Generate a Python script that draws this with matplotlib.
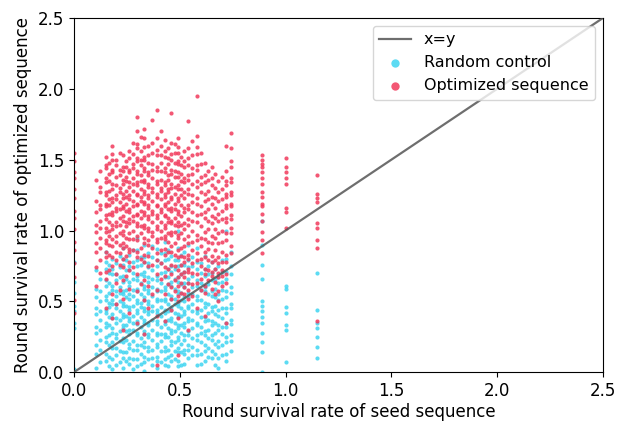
import matplotlib
matplotlib.use('Agg')
import matplotlib.pyplot as plt
import numpy as np

# --- Data (column by column) ---
# seed-sequence survival rates (x), one column of points per value
seed_x = [0.0, 0.105, 0.15, 0.18, 0.2, 0.23, 0.26, 0.3, 0.33, 0.35, 0.39,
          0.43, 0.46, 0.49, 0.52, 0.54, 0.58, 0.62, 0.65, 0.68, 0.72, 0.74,
          0.89, 1.0, 1.15,
          0.125, 0.165, 0.215, 0.245, 0.28, 0.315, 0.37, 0.41, 0.445, 0.475,
          0.505, 0.56, 0.6, 0.635, 0.665, 0.7]

optimized_y = [
    [1.55, 1.49, 1.41, 1.37, 1.29, 1.23, 1.14, 1.09, 1.01, 0.92, 0.86, 0.77, 0.67, 0.51, 0.42],
    [1.36, 1.21, 1.13, 1.04, 0.99, 0.91, 0.85, 0.74, 0.61],
    [1.52, 1.46, 1.44, 1.37, 1.34, 1.27, 1.25, 1.19, 1.17, 1.11, 1.08, 1.02, 0.99, 0.93, 0.91, 0.85, 0.81, 0.71, 0.66, 0.45],
    [1.60, 1.54, 1.50, 1.43, 1.41, 1.33, 1.29, 1.23, 1.20, 1.13, 1.11, 1.04, 1.01, 0.94, 0.89, 0.81, 0.75, 0.55, 0.38],
    [1.50, 1.46, 1.38, 1.32, 1.25, 1.22, 1.16, 1.14, 1.06, 1.03, 0.96, 0.92, 0.85, 0.79, 0.69, 0.63, 0.48],
    [1.53, 1.45, 1.42, 1.36, 1.33, 1.26, 1.23, 1.17, 1.16, 1.10, 1.07, 1.00, 0.97, 0.91, 0.88, 0.80, 0.74, 0.65, 0.52, 0.30],
    [1.56, 1.51, 1.43, 1.41, 1.34, 1.31, 1.25, 1.22, 1.15, 1.13, 1.08, 1.05, 0.98, 0.94, 0.87, 0.85, 0.78, 0.72, 0.59, 0.42],
    [1.80, 1.70, 1.61, 1.58, 1.51, 1.49, 1.42, 1.40, 1.34, 1.32, 1.26, 1.25, 1.19, 1.18, 1.12, 1.11, 1.05, 1.03, 0.96, 0.93, 0.85, 0.81, 0.69, 0.57, 0.35],
    [1.72, 1.65, 1.59, 1.52, 1.50, 1.44, 1.42, 1.36, 1.34, 1.28, 1.26, 1.20, 1.19, 1.13, 1.11, 1.04, 1.02, 0.95, 0.91, 0.83, 0.78, 0.65, 0.51, 0.27],
    [1.60, 1.53, 1.48, 1.41, 1.39, 1.33, 1.31, 1.25, 1.23, 1.18, 1.16, 1.10, 1.08, 1.02, 1.00, 0.93, 0.90, 0.82, 0.75, 0.61, 0.45],
    [1.85, 1.65, 1.57, 1.53, 1.45, 1.42, 1.35, 1.33, 1.26, 1.24, 1.18, 1.17, 1.11, 1.09, 1.03, 1.01, 0.94, 0.92, 0.84, 0.79, 0.69, 0.58, 0.40, 0.05],
    [1.64, 1.56, 1.52, 1.44, 1.41, 1.34, 1.32, 1.26, 1.24, 1.19, 1.17, 1.11, 1.10, 1.04, 1.02, 0.96, 0.94, 0.87, 0.83, 0.74, 0.68, 0.55, 0.36],
    [1.83, 1.62, 1.54, 1.50, 1.43, 1.40, 1.33, 1.30, 1.24, 1.22, 1.16, 1.14, 1.07, 1.05, 0.99, 0.97, 0.89, 0.85, 0.76, 0.69, 0.60, 0.52, 0.44],
    [1.65, 1.59, 1.55, 1.49, 1.47, 1.41, 1.38, 1.32, 1.29, 1.23, 1.21, 1.14, 1.12, 1.06, 1.03, 0.97, 0.95, 0.86, 0.81, 0.72, 0.67, 0.61, 0.54, 0.50, 0.38, 0.12],
    [1.56, 1.49, 1.45, 1.37, 1.34, 1.27, 1.23, 1.16, 1.13, 1.05, 1.01, 0.94, 0.89, 0.81, 0.78, 0.71, 0.67, 0.60, 0.55],
    [1.77, 1.58, 1.51, 1.46, 1.39, 1.36, 1.29, 1.26, 1.18, 1.15, 1.08, 1.04, 0.96, 0.91, 0.83, 0.80, 0.73, 0.71, 0.63, 0.58, 0.52, 0.30],
    [1.95, 1.67, 1.59, 1.54, 1.46, 1.43, 1.35, 1.31, 1.23, 1.19, 1.11, 1.06, 0.97, 0.93, 0.84, 0.79, 0.69, 0.63, 0.45],
    [1.48, 1.39, 1.34, 1.26, 1.21, 1.13, 1.09, 0.99, 0.94, 0.85, 0.81, 0.73, 0.69, 0.61, 0.56, 0.40],
    [1.45, 1.37, 1.32, 1.24, 1.19, 1.10, 1.05, 0.96, 0.91, 0.82, 0.78, 0.71, 0.68, 0.59],
    [1.35, 1.27, 1.21, 1.12, 1.07, 0.98, 0.91, 0.81, 0.77, 0.70, 0.67, 0.57, 0.50],
    [1.60, 1.42, 1.35, 1.32, 1.26, 1.24, 1.18, 1.16, 1.09, 1.06, 0.98, 0.93, 0.83, 0.78, 0.69, 0.63, 0.35],
    [1.69, 1.58, 1.49, 1.45, 1.37, 1.34, 1.27, 1.25, 1.19, 1.17, 1.11, 1.08, 1.02, 0.98, 0.89, 0.84],
    [1.53, 1.50, 1.47, 1.45, 1.41, 1.37, 1.33, 1.27, 1.24, 1.19, 1.17, 1.12, 1.07, 0.99, 0.93, 0.84],
    [1.51, 1.45, 1.41, 1.37, 1.33, 1.16, 1.13, 1.02],
    [1.39, 1.26, 1.23, 1.20, 1.05, 1.02, 0.93, 0.88, 0.36],
    # in-between columns
    [1.42, 1.31, 1.27, 1.18, 1.15, 1.07, 1.02, 0.95, 0.88, 0.79, 0.70],
    [1.48, 1.40, 1.35, 1.28, 1.22, 1.18, 1.12, 1.06, 1.00, 0.96, 0.90, 0.83, 0.72],
    [1.55, 1.43, 1.39, 1.30, 1.27, 1.20, 1.15, 1.09, 1.04, 0.98, 0.90, 0.84, 0.76, 0.58],
    [1.49, 1.45, 1.38, 1.35, 1.28, 1.24, 1.19, 1.14, 1.06, 1.03, 0.95, 0.89, 0.82, 0.68],
    [1.62, 1.54, 1.47, 1.44, 1.37, 1.33, 1.28, 1.21, 1.17, 1.10, 1.07, 1.00, 0.94, 0.86, 0.74],
    [1.66, 1.56, 1.50, 1.46, 1.39, 1.35, 1.29, 1.24, 1.21, 1.14, 1.09, 1.03, 0.98, 0.88, 0.80, 0.62],
    [1.78, 1.62, 1.55, 1.47, 1.43, 1.37, 1.30, 1.27, 1.21, 1.14, 1.12, 1.06, 0.99, 0.96, 0.88, 0.76, 0.55],
    [1.70, 1.60, 1.53, 1.48, 1.42, 1.36, 1.30, 1.28, 1.22, 1.15, 1.13, 1.06, 1.00, 0.95, 0.86, 0.77, 0.66],
    [1.58, 1.51, 1.47, 1.39, 1.36, 1.29, 1.27, 1.20, 1.15, 1.09, 1.06, 0.98, 0.92, 0.85, 0.73, 0.62],
    [1.61, 1.55, 1.48, 1.42, 1.38, 1.31, 1.26, 1.19, 1.15, 1.09, 1.04, 0.99, 0.91, 0.83, 0.75, 0.65, 0.57],
    [1.52, 1.46, 1.40, 1.35, 1.29, 1.25, 1.18, 1.10, 1.04, 0.98, 0.88, 0.82, 0.76, 0.69, 0.63, 0.56],
    [1.63, 1.53, 1.44, 1.40, 1.33, 1.25, 1.20, 1.13, 1.07, 1.00, 0.92, 0.86, 0.77, 0.70, 0.62, 0.54],
    [1.55, 1.47, 1.38, 1.33, 1.27, 1.17, 1.12, 1.03, 0.95, 0.89, 0.80, 0.75, 0.66, 0.58],
    [1.42, 1.36, 1.28, 1.22, 1.15, 1.07, 1.01, 0.92, 0.87, 0.79, 0.72, 0.65],
    [1.40, 1.30, 1.23, 1.16, 1.09, 1.01, 0.95, 0.86, 0.79, 0.73, 0.64, 0.55],
    [1.38, 1.29, 1.22, 1.14, 1.08, 1.00, 0.92, 0.85, 0.78, 0.72, 0.68, 0.61],
]

random_y = [
    [0.78, 0.64, 0.56, 0.47, 0.43, 0.35, 0.31, 0.02],
    [0.72, 0.59, 0.53, 0.45, 0.41, 0.32, 0.28, 0.19, 0.13, 0.03],
    [0.85, 0.78, 0.73, 0.65, 0.61, 0.54, 0.51, 0.44, 0.42, 0.35, 0.32, 0.25, 0.21, 0.13, 0.08],
    [0.80, 0.73, 0.69, 0.61, 0.58, 0.51, 0.48, 0.41, 0.38, 0.31, 0.28, 0.21, 0.17, 0.09, 0.02],
    [0.77, 0.69, 0.65, 0.57, 0.54, 0.48, 0.45, 0.38, 0.35, 0.27, 0.24, 0.17, 0.12, 0.05],
    [0.88, 0.80, 0.76, 0.68, 0.64, 0.57, 0.55, 0.49, 0.47, 0.41, 0.39, 0.33, 0.31, 0.24, 0.21, 0.14, 0.10, 0.03],
    [0.83, 0.75, 0.72, 0.64, 0.61, 0.55, 0.52, 0.46, 0.44, 0.38, 0.36, 0.30, 0.27, 0.20, 0.17, 0.10, 0.06],
    [0.95, 0.86, 0.79, 0.75, 0.68, 0.65, 0.59, 0.57, 0.51, 0.49, 0.44, 0.42, 0.36, 0.34, 0.28, 0.26, 0.19, 0.16, 0.09, 0.04],
    [0.90, 0.81, 0.78, 0.71, 0.68, 0.61, 0.59, 0.53, 0.51, 0.45, 0.43, 0.37, 0.35, 0.29, 0.27, 0.21, 0.18, 0.11, 0.07, 0.01],
    [0.84, 0.77, 0.74, 0.67, 0.64, 0.58, 0.56, 0.50, 0.48, 0.43, 0.41, 0.35, 0.33, 0.27, 0.25, 0.18, 0.15, 0.09],
    [0.87, 0.79, 0.75, 0.68, 0.65, 0.59, 0.57, 0.52, 0.50, 0.44, 0.42, 0.36, 0.34, 0.28, 0.26, 0.20, 0.18, 0.11, 0.08, 0.03],
    [0.92, 0.84, 0.79, 0.71, 0.67, 0.60, 0.58, 0.52, 0.50, 0.44, 0.42, 0.36, 0.34, 0.27, 0.25, 0.18, 0.15, 0.09, 0.05],
    [0.82, 0.75, 0.71, 0.64, 0.61, 0.54, 0.52, 0.46, 0.44, 0.38, 0.36, 0.30, 0.28, 0.22, 0.19, 0.12, 0.08],
    [1.00, 0.88, 0.79, 0.75, 0.67, 0.64, 0.57, 0.55, 0.49, 0.47, 0.41, 0.39, 0.33, 0.31, 0.25, 0.23, 0.17, 0.14, 0.08, 0.04],
    [0.85, 0.76, 0.71, 0.63, 0.60, 0.53, 0.50, 0.43, 0.41, 0.35, 0.32, 0.26, 0.23, 0.16, 0.13, 0.06],
    [0.90, 0.79, 0.74, 0.66, 0.63, 0.56, 0.53, 0.47, 0.45, 0.38, 0.36, 0.29, 0.26, 0.19, 0.16, 0.10],
    [0.88, 0.78, 0.73, 0.65, 0.61, 0.54, 0.51, 0.44, 0.42, 0.35, 0.33, 0.26, 0.23, 0.16, 0.12, 0.05],
    [0.82, 0.73, 0.68, 0.60, 0.57, 0.49, 0.46, 0.39, 0.36, 0.29, 0.26, 0.19, 0.15, 0.08],
    [0.78, 0.70, 0.65, 0.57, 0.54, 0.46, 0.43, 0.36, 0.33, 0.26, 0.23, 0.15, 0.10],
    [0.75, 0.67, 0.63, 0.55, 0.51, 0.44, 0.40, 0.33, 0.30, 0.22, 0.18, 0.10, 0.03],
    [1.00, 0.80, 0.71, 0.66, 0.57, 0.53, 0.45, 0.42, 0.35, 0.32, 0.25, 0.21, 0.13, 0.08],
    [0.85, 0.75, 0.69, 0.60, 0.56, 0.48, 0.45, 0.37, 0.34, 0.26, 0.22, 0.15],
    [1.07, 0.90, 0.76, 0.66, 0.50, 0.47, 0.43, 0.39, 0.35, 0.28, 0.21, 0.14, 0.0],
    [0.61, 0.59, 0.46, 0.42, 0.33, 0.30, 0.07],
    [0.70, 0.44, 0.35, 0.31, 0.25, 0.18, 0.10],
    # in-between columns
    [0.66, 0.57, 0.50, 0.43, 0.37, 0.30, 0.23, 0.16, 0.07],
    [0.76, 0.70, 0.63, 0.56, 0.49, 0.46, 0.39, 0.33, 0.26, 0.19, 0.11, 0.04],
    [0.82, 0.74, 0.67, 0.60, 0.56, 0.50, 0.43, 0.37, 0.29, 0.22, 0.15, 0.07],
    [0.79, 0.72, 0.66, 0.58, 0.53, 0.47, 0.40, 0.33, 0.29, 0.23, 0.14, 0.08],
    [0.86, 0.78, 0.70, 0.66, 0.58, 0.54, 0.47, 0.40, 0.35, 0.30, 0.22, 0.16, 0.09, 0.02],
    [0.81, 0.76, 0.69, 0.63, 0.55, 0.49, 0.46, 0.39, 0.32, 0.24, 0.19, 0.13, 0.06],
    [0.89, 0.81, 0.72, 0.66, 0.60, 0.54, 0.47, 0.43, 0.37, 0.30, 0.23, 0.16, 0.10, 0.05],
    [0.84, 0.77, 0.70, 0.63, 0.57, 0.51, 0.46, 0.40, 0.32, 0.27, 0.22, 0.15, 0.07],
    [0.86, 0.80, 0.73, 0.67, 0.62, 0.55, 0.48, 0.43, 0.37, 0.31, 0.25, 0.16, 0.11, 0.04],
    [0.79, 0.73, 0.66, 0.59, 0.52, 0.48, 0.42, 0.35, 0.29, 0.21, 0.15, 0.09],
    [0.83, 0.76, 0.69, 0.62, 0.56, 0.51, 0.45, 0.40, 0.33, 0.28, 0.20, 0.14, 0.05],
    [0.81, 0.75, 0.68, 0.60, 0.55, 0.48, 0.43, 0.37, 0.31, 0.24, 0.18, 0.12],
    [0.77, 0.70, 0.63, 0.58, 0.51, 0.44, 0.39, 0.32, 0.28, 0.21, 0.13, 0.06],
    [0.75, 0.69, 0.62, 0.55, 0.48, 0.42, 0.37, 0.30, 0.24, 0.17, 0.11],
    [0.73, 0.66, 0.59, 0.53, 0.47, 0.41, 0.35, 0.28, 0.20, 0.13, 0.05],
    [0.79, 0.71, 0.64, 0.58, 0.52, 0.45, 0.38, 0.32, 0.27, 0.19, 0.12],
]

BLUE = '#3fd5f1'
RED = '#f23a5c'

def flatten(cols):
    xs, ys = [], []
    for x, col in zip(seed_x, cols):
        xs.extend([x] * len(col))
        ys.extend(col)
    return np.array(xs), np.array(ys)

plt.rcParams['font.size'] = 12

fig = plt.figure(figsize=(6.17, 4.21), dpi=100)
ax = fig.add_axes([0.12, 0.116, 0.857, 0.841])

# diagonal sits on top of the points
ax.plot([0, 2.5], [0, 2.5], color='#555555', linewidth=1.6, alpha=0.85,
        label='x=y', zorder=3)

rx, ry = flatten(random_y)
ox, oy = flatten(optimized_y)
ax.scatter(rx, ry, s=9, color=BLUE, alpha=0.85, linewidths=0, label='Random control')
ax.scatter(ox, oy, s=9, color=RED, alpha=0.85, linewidths=0, label='Optimized sequence')

ax.set_xlim(0, 2.5)
ax.set_ylim(0, 2.5)
ax.set_xticks(np.arange(0, 2.51, 0.5))
ax.set_yticks(np.arange(0, 2.51, 0.5))
ax.set_xlabel('Round survival rate of seed sequence', labelpad=2)
ax.set_ylabel('Round survival rate of optimized sequence', labelpad=4)
ax.legend(loc='upper right', markerscale=2.0, fontsize=11.5)

fig.savefig('out.png', dpi=100)
